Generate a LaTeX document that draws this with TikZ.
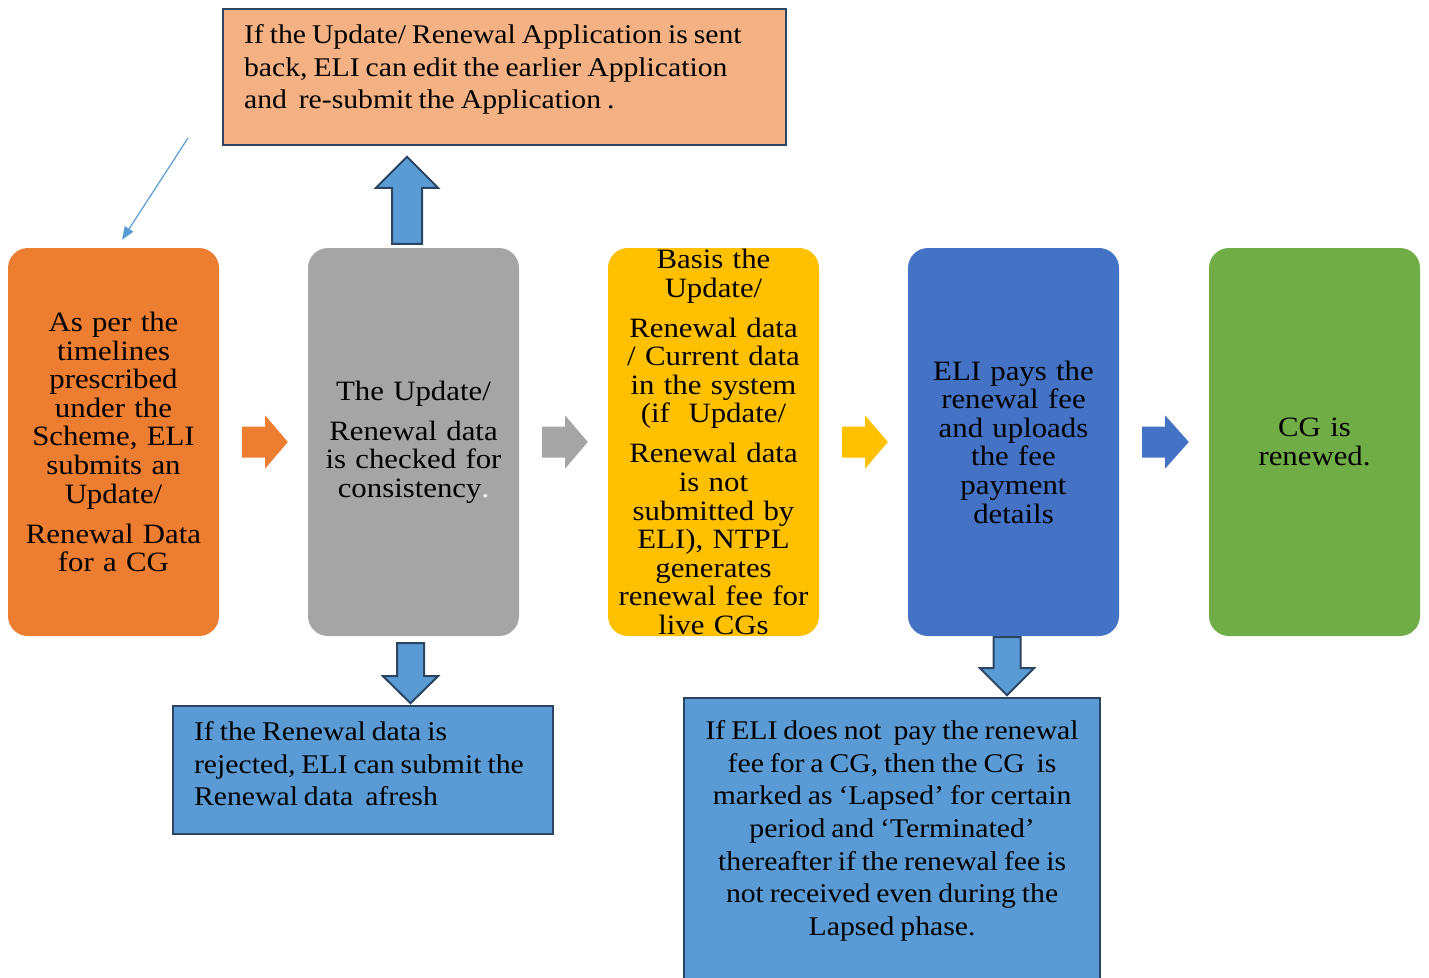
\documentclass[tikz,border=0pt]{standalone}
\usepackage{fontspec}
\setmainfont{Liberation Serif}[FakeStretch=1.1,WordSpace=0.8]
\usetikzlibrary{calc,arrows.meta}

\definecolor{cOrange}{HTML}{ED7D31}
\definecolor{cGrey}{HTML}{A5A5A5}
\definecolor{cYellow}{HTML}{FFC000}
\definecolor{cBlue}{HTML}{4472C4}
\definecolor{cGreen}{HTML}{70AD47}
\definecolor{cPeach}{HTML}{F4B183}
\definecolor{cNote}{HTML}{5B9BD5}
\definecolor{cEdge}{HTML}{2B4563}

% tight leading inside the process stages
\newcommand\stagefont{\fontsize{28}{28.6}\selectfont\lineskiplimit=-100pt\relax}
\newcommand\notefont{\fontsize{27}{32.6}\selectfont}
\newcommand\gap{\\[11.4pt]}

% chevron between two stages
\newcommand\flowarrow[3]{%
  \fill[#3] ($(#1.east)+(23,-15.5)$) -- ($(#1.east)+(46,-15.5)$)
    -- ($(#1.east)+(46,-26.5)$) -- ($(#2.west)+(-20,0)$)
    -- ($(#1.east)+(46,26.5)$) -- ($(#1.east)+(46,15.5)$)
    -- ($(#1.east)+(23,15.5)$) -- cycle;}

\begin{document}
\begin{tikzpicture}[x=1pt,y=-1pt,
  stage/.style={rounded corners=20pt, minimum width=211pt, minimum height=388pt,
    inner sep=0pt, text width=205pt, align=center, font=\stagefont},
  note/.style={draw=cEdge, line width=2.2pt, fill=#1, anchor=north west,
    inner ysep=0pt, font=\notefont},
  blockarrow/.style={draw=cEdge, line width=2pt, fill=cNote, line join=miter},
]
\useasboundingbox (0,0) rectangle (1429,977);

% process stages
\node[stage, fill=cOrange] (submit) at (113.5,442)
  {As per the\\ timelines\\ prescribed\\ under the\\ Scheme, ELI\\ submits an\\ Update/\gap Renewal Data\\ for a CG};
\node[stage, fill=cGrey] (check) at (413.5,442)
  {The Update/\gap Renewal data\\ is checked for\\ consistency{\color{white}.}};
\node[stage, fill=cYellow] (fee) at (713.5,442)
  {Basis the\\ Update/\gap Renewal data\\ / Current data\\ in the system\\ (if\ \ Update/\gap Renewal data\\ is not\\ submitted by\\ ELI), NTPL\\ generates\\ renewal fee for\\ live CGs};
\node[stage, fill=cBlue] (pay) at (1013.5,442)
  {ELI pays the\\ renewal fee\\ and uploads\\ the fee\\ payment\\ details};
\node[stage, fill=cGreen] (renewed) at (1314.5,442)
  {CG is\\ renewed.};

\flowarrow{submit}{check}{cOrange}
\flowarrow{check}{fee}{cGrey}
\flowarrow{fee}{pay}{cYellow}
\flowarrow{pay}{renewed}{cBlue}

% side notes
\node[note=cPeach, inner xsep=21pt] (sentback) at (222,8)
  {\parbox[t][136pt][t]{521pt}{\raggedright\rule{0pt}{34.5pt}If the Update/ Renewal Application is sent\\ back, ELI can edit the earlier Application\\ and\ \ re-submit the Application .}};
\node[note=cNote, inner xsep=21pt] (rejected) at (172,705)
  {\parbox[t][128pt][t]{338pt}{\raggedright\rule{0pt}{34.5pt}If the Renewal data is\\ rejected, ELI can submit the\\ Renewal data\ \ afresh}};
\node[note=cNote, inner xsep=10pt] (lapsed) at (683,697)
  {\parbox[t][293pt][t]{396pt}{\centering\rule{0pt}{41.5pt}If ELI does not\ \ pay the renewal\\ fee for a CG, then the CG\ \ is\\ marked as ‘Lapsed’ for certain\\ period and ‘Terminated’\\ thereafter if the renewal fee is\\ not received even during the\\ Lapsed phase.}};

% block arrows towards the notes
\draw[blockarrow] ($(check.north)+(-21.5,-4)$) -- ($(check.north)+(8.5,-4)$)
  -- ($(check.north)+(8.5,-60)$) -- ($(check.north)+(24.5,-60)$)
  -- ($(check.north)+(-6.5,-91)$) -- ($(check.north)+(-37.5,-60)$)
  -- ($(check.north)+(-21.5,-60)$) -- cycle;
\draw[blockarrow] ($(check.south)+(-16.5,7)$) -- ($(check.south)+(10.5,7)$)
  -- ($(check.south)+(10.5,40)$) -- ($(check.south)+(24.5,40)$)
  -- ($(check.south)+(-3,67)$) -- ($(check.south)+(-30.5,40)$)
  -- ($(check.south)+(-16.5,40)$) -- cycle;
\draw[blockarrow] ($(pay.south)+(-20,1)$) -- ($(pay.south)+(7,1)$)
  -- ($(pay.south)+(7,32)$) -- ($(pay.south)+(20.5,32)$)
  -- ($(pay.south)+(-6.5,59)$) -- ($(pay.south)+(-33.5,32)$)
  -- ($(pay.south)+(-20,32)$) -- cycle;

% thin pointer back to the first stage
\coordinate (loopstart) at (188,138);
\draw[cNote, line width=1.2pt, -{Triangle[length=13pt,width=10pt]}]
  (loopstart) -- ($(submit.north)+(8.5,-8)$);
\end{tikzpicture}
\end{document}
